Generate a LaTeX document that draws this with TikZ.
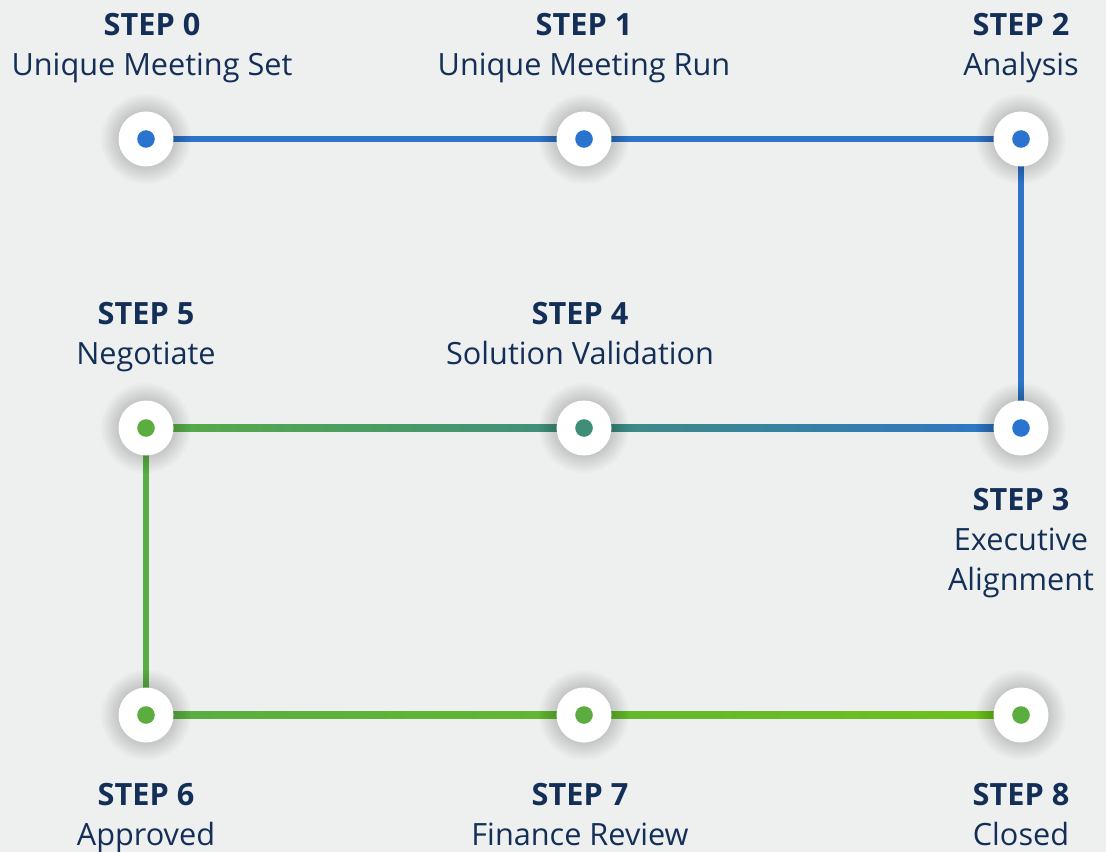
\documentclass[tikz,border=0pt]{standalone}
\usepackage{fontspec}
\setmainfont{Open Sans}

\definecolor{paper}{HTML}{EEF0EF}
\definecolor{ink}{HTML}{142F57}
\definecolor{railblue}{HTML}{2E75C8}
\definecolor{railteal}{HTML}{3E8D80}
\definecolor{railgreen}{HTML}{58AD43}
\definecolor{raillime}{HTML}{6EC11A}
\definecolor{dotblue}{HTML}{2A74CF}
\definecolor{dotteal}{HTML}{3F8E78}
\definecolor{dotgreen}{HTML}{5AAD3E}

\pgfdeclarelayer{back}
\pgfdeclarelayer{rails}
\pgfdeclarelayer{halo}
\pgfsetlayers{back,rails,halo,main}

\tikzset{
  stepnode/.style={circle, fill=white, minimum size=41.25pt, inner sep=0pt,
    path picture={\fill[#1] (path picture bounding box.center) circle (6.6pt);}},
  steplabel/.style={anchor=north, inner sep=0pt, align=center, text=ink,
    font=\fontsize{23}{30}\selectfont},
  rail/.style={line width=4.9pt}
}

\begin{document}
\begin{tikzpicture}[x=0.75pt, y=-0.75pt]
\begin{pgfonlayer}{back}
\fill[paper] (0,0) rectangle (1106,852);
\end{pgfonlayer}
\useasboundingbox (0,0) rectangle (1106,852);

% the nine stops
\node[stepnode=dotblue] (s0) at (146,139) {};
\node[stepnode=dotblue] (s1) at (584,139) {};
\node[stepnode=dotblue] (s2) at (1021,139) {};
\node[stepnode=dotblue] (s3) at (1021,428) {};
\node[stepnode=dotteal] (s4) at (584,428) {};
\node[stepnode=dotgreen] (s5) at (146,428) {};
\node[stepnode=dotgreen] (s6) at (146,715) {};
\node[stepnode=dotgreen] (s7) at (584,715) {};
\node[stepnode=dotgreen] (s8) at (1021,715) {};

% labels
\node[steplabel] (l0) at (152,13) {\textbf{STEP 0}\\Unique Meeting Set};
\node[steplabel] (l1) at (584,13) {\textbf{STEP 1}\\Unique Meeting Run};
\node[steplabel] (l2) at (1021,13) {\textbf{STEP 2}\\Analysis};
\node[steplabel] (l5) at (146,302) {\textbf{STEP 5}\\Negotiate};
\node[steplabel] (l4) at (580,302) {\textbf{STEP 4}\\Solution Validation};
\node[steplabel] (l3) at (1021,488) {\textbf{STEP 3}\\Executive\\Alignment};
\node[steplabel] (l6) at (146,783) {\textbf{STEP 6}\\Approved};
\node[steplabel] (l7) at (580,783) {\textbf{STEP 7}\\Finance Review};
\node[steplabel] (l8) at (1021,783) {\textbf{STEP 8}\\Closed};

% soft halo under each stop
\begin{pgfonlayer}{halo}
\foreach \n in {s0,s1,s2,s3,s4,s5,s6,s7,s8}
  \foreach \r in {21,22,...,34}
    \fill[black, opacity=0.011] (\n.center) circle (\r pt);
\end{pgfonlayer}

% rails between the stops
\begin{pgfonlayer}{rails}
\draw[rail, railblue] (s0.center) -- (s2.center) -- (s3.center);
\shade[left color=railgreen, right color=railblue, middle color=railteal]
  ([yshift=2.45pt]s5.center) rectangle ([yshift=-2.45pt]s3.center);
\draw[rail, railgreen] (s5.center) -- (s6.center);
\shade[left color=railgreen, right color=raillime]
  ([yshift=2.45pt]s6.center) rectangle ([yshift=-2.45pt]s8.center);
\end{pgfonlayer}
\end{tikzpicture}
\end{document}
